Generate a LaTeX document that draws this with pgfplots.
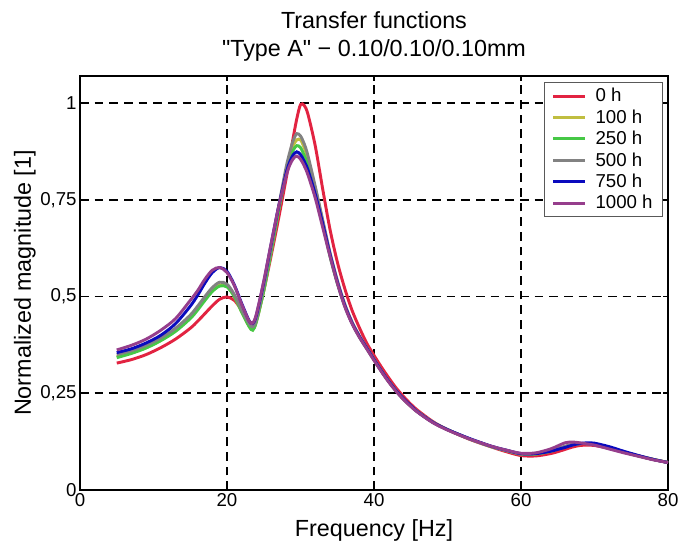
\documentclass[border=0pt]{standalone}
\usepackage{pgfplots}
\pgfplotsset{compat=1.18}
\usepackage{pgfplotstable}
\usepackage{fontspec}
\setmainfont{Liberation Sans}
\newfontfamily\plainfont{Liberation Sans}
\usetikzlibrary{calc}

\definecolor{c0}{RGB}{226,35,65}
\definecolor{c1}{RGB}{192,190,64}
\definecolor{c2}{RGB}{70,200,70}
\definecolor{c3}{RGB}{130,130,130}
\definecolor{c4}{RGB}{10,10,190}
\definecolor{c5}{RGB}{150,62,140}

% f = frequency, then 0 h, 100 h, 250 h, 500 h, 750 h, 1000 h
\pgfplotstableread{
f     r     y     g     k     b     p
5     0.328 0.345 0.342 0.350 0.355 0.362
7     0.337 0.355 0.353 0.360 0.365 0.374
9     0.350 0.368 0.367 0.374 0.380 0.390
11    0.368 0.387 0.386 0.393 0.400 0.413
13    0.390 0.412 0.410 0.418 0.430 0.443
15    0.418 0.445 0.443 0.452 0.475 0.490
16    0.436 0.468 0.465 0.475 0.503 0.515
17    0.456 0.493 0.490 0.500 0.535 0.545
18    0.476 0.516 0.513 0.523 0.562 0.568
19    0.493 0.530 0.527 0.537 0.575 0.575
20    0.499 0.527 0.525 0.532 0.565 0.562
21    0.490 0.500 0.500 0.505 0.530 0.528
22    0.465 0.460 0.460 0.465 0.482 0.480
23    0.437 0.423 0.423 0.430 0.438 0.437
23.5  0.430 0.414 0.413 0.422 0.430 0.431
24    0.440 0.435 0.435 0.440 0.452 0.455
25    0.515 0.515 0.515 0.525 0.537 0.540
26    0.605 0.615 0.615 0.625 0.635 0.637
27    0.700 0.720 0.720 0.730 0.730 0.730
28    0.800 0.820 0.815 0.830 0.815 0.808
28.5  0.855 0.860 0.850 0.870 0.846 0.838
29    0.910 0.890 0.878 0.903 0.866 0.856
29.5  0.960 0.905 0.890 0.921 0.874 0.863
30    0.996 0.905 0.885 0.915 0.867 0.855
30.5  0.994 0.885 0.865 0.895 0.850 0.838
31    0.972 0.857 0.840 0.865 0.828 0.815
32    0.890 0.780 0.770 0.785 0.765 0.755
33    0.780 0.695 0.690 0.700 0.690 0.680
34    0.675 0.610 0.605 0.615 0.610 0.605
35    0.590 0.538 0.535 0.543 0.538 0.535
36    0.522 0.479 0.477 0.482 0.478 0.475
37    0.465 0.433 0.432 0.435 0.432 0.430
38    0.420 0.397 0.396 0.399 0.397 0.395
39    0.380 0.367 0.366 0.368 0.367 0.365
40    0.348 0.337 0.336 0.338 0.337 0.335
41    0.318 0.308 0.307 0.308 0.308 0.306
42    0.290 0.281 0.280 0.281 0.281 0.279
43    0.264 0.257 0.256 0.257 0.257 0.255
44    0.242 0.235 0.235 0.235 0.236 0.234
45    0.222 0.217 0.217 0.217 0.218 0.216
46    0.205 0.201 0.201 0.201 0.201 0.200
48    0.177 0.175 0.175 0.175 0.175 0.174
50    0.156 0.156 0.156 0.156 0.156 0.155
53    0.131 0.132 0.132 0.132 0.133 0.132
56    0.111 0.112 0.112 0.112 0.113 0.113
58    0.099 0.102 0.102 0.102 0.103 0.103
60    0.089 0.093 0.093 0.093 0.094 0.095
62    0.088 0.093 0.093 0.094 0.094 0.096
64    0.094 0.100 0.100 0.101 0.100 0.106
65    0.099 0.106 0.106 0.107 0.105 0.114
66    0.105 0.112 0.112 0.113 0.110 0.122
67    0.111 0.117 0.117 0.118 0.116 0.124
68    0.115 0.120 0.120 0.120 0.120 0.122
69    0.116 0.120 0.120 0.120 0.122 0.119
70    0.115 0.118 0.118 0.118 0.121 0.116
72    0.108 0.109 0.109 0.109 0.112 0.106
74    0.098 0.098 0.098 0.098 0.100 0.096
76    0.088 0.088 0.088 0.088 0.089 0.087
78    0.079 0.079 0.079 0.079 0.079 0.078
80    0.071 0.071 0.071 0.071 0.071 0.071
}\data

\begin{document}
\begin{tikzpicture}
\begin{axis}[
    scale only axis,
    width=441pt, height=310.5pt,
    xmin=0, xmax=80, ymin=0, ymax=1.07,
    xtick={0,20,40,60,80}, xticklabels={0,20,40,60,80},
    ytick={0,0.25,0.5,0.75,1}, yticklabels={0,{0,25},{0,5},{0,75},1},
    /pgf/number format/assume math mode=true,
    tick align=inside, major tick length=4pt,
    tick style={line width=1.4pt, black},
    axis line style={line width=1.8pt},
    grid=major,
    major grid style={dash pattern=on 6.5pt off 4.5pt, line width=1.3pt, black},
    ticklabel style={font=\fontsize{14}{16}\selectfont},
    xticklabel style={yshift=1pt},
    yticklabel style={xshift=1pt},
    label style={font=\fontsize{17.5}{20}\selectfont},
    xlabel={Frequency [Hz]},
    xlabel style={at={(axis description cs:0.5,-0.1113)}, anchor=base},
    ylabel={Normalized magnitude [1]},
    ylabel style={at={(axis description cs:-0.0837,0.5)}, anchor=base},
    title={Transfer functions\\"Type A" − 0.10/0.10/0.10mm},
    title style={at={(axis description cs:0.5,1)}, anchor=south, yshift=5pt,
        inner sep=0pt, align=center, font=\plainfont\fontsize{17.5}{20.5}\selectfont},
    legend cell align=left,
    legend image code/.code={\draw[#1] (0pt,0pt) -- (24pt,0pt);},
    legend style={at={(axis description cs:1,1)}, anchor=north east,
        xshift=-3.75pt, yshift=-4.5pt, draw=black!65, line width=0.6pt,
        font=\fontsize{14}{16}\selectfont, row sep=0.4pt, column sep=4.5pt,
        inner xsep=5.5pt, inner ysep=2.5pt},
]
\addplot[c0, line width=2.2pt, smooth] table[x=f, y=r] {\data};
\addlegendentry{0 h}
\addplot[c1, line width=2.2pt, smooth] table[x=f, y=y] {\data};
\addlegendentry{100 h}
\addplot[c2, line width=2.2pt, smooth] table[x=f, y=g] {\data};
\addlegendentry{250 h}
\addplot[c3, line width=2.2pt, smooth] table[x=f, y=k] {\data};
\addlegendentry{500 h}
\addplot[c4, line width=2.2pt, smooth] table[x=f, y=b] {\data};
\addlegendentry{750 h}
\addplot[c5, line width=2.2pt, smooth] table[x=f, y=p] {\data};
\addlegendentry{1000 h}
\end{axis}
\pgfresetboundingbox
\path[use as bounding box] ($(current axis.south west)+(-60pt,-40.5pt)$)
    rectangle ($(current axis.north east)+(10.5pt,57pt)$);
\end{tikzpicture}
\end{document}
